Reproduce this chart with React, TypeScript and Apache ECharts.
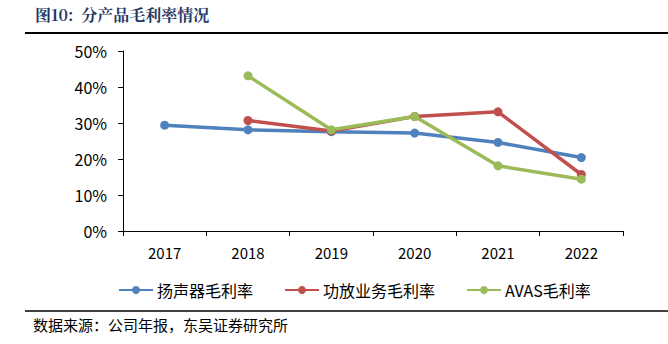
import React, { useEffect, useRef } from "react";
import * as echarts from "echarts";

const categories = ["2017", "2018", "2019", "2020", "2021", "2022"];
const speakerMargin: (number | null)[] = [29.4, 28.1, 27.6, 27.2, 24.6, 20.4];
const ampMargin: (number | null)[] = [null, 30.7, 27.8, 31.8, 33.1, 15.7];
const avasMargin: (number | null)[] = [null, 43.1, 28.1, 31.8, 18.1, 14.4];
const seriesNames = ["扬声器毛利率", "功放业务毛利率", "AVAS毛利率"];
const colors = ["#4F81BD", "#C0504D", "#9BBB59"];
const titleText = "图10:  分产品毛利率情况";
const sourceText = "数据来源：公司年报，东吴证券研究所";

const FONT = "'Noto Sans CJK SC', 'Microsoft YaHei', sans-serif";

export default function App() {
  const ref = useRef<HTMLDivElement>(null);
  useEffect(() => {
    if (!ref.current) return;
    const chart = echarts.init(ref.current, undefined, { renderer: "svg" });
    const datas = [speakerMargin, ampMargin, avasMargin];
    chart.setOption({
      animation: false,
      backgroundColor: "#ffffff",
      grid: { left: 123, right: 45, top: 51, bottom: 113 },
      xAxis: {
        type: "category",
        data: categories,
        boundaryGap: true,
        axisLine: { lineStyle: { color: "#000", width: 1 } },
        axisTick: { show: true, length: 5, inside: false, lineStyle: { color: "#000" } },
        axisLabel: { color: "#000", fontSize: 15, fontFamily: FONT, margin: 14 },
      },
      yAxis: {
        type: "value",
        min: 0,
        max: 50,
        interval: 10,
        splitLine: { show: false },
        axisLine: { show: true, lineStyle: { color: "#000", width: 1 } },
        axisTick: { show: true, length: 5, lineStyle: { color: "#000" } },
        axisLabel: {
          color: "#000",
          fontSize: 16,
          fontFamily: FONT,
          margin: 16,
          formatter: (v: number) => v + "%",
        },
      },
      legend: {
        top: 277,
        left: 113,
        itemGap: 31,
        itemWidth: 34,
        itemHeight: 10,
        textStyle: { color: "#000", fontSize: 16, fontFamily: FONT, padding: [0, 0, 0, -1] },
        data: seriesNames,
      },
      series: seriesNames.map((name, i) => ({
        name,
        type: "line",
        data: datas[i],
        connectNulls: false,
        symbol: "circle",
        symbolSize: 9,
        color: colors[i],
        lineStyle: { width: 3.5, color: colors[i] },
        itemStyle: { color: colors[i] },
      })),
      graphic: [
        {
          type: "text",
          left: 35,
          top: 6,
          style: {
            text: titleText,
            fill: "#1F3864",
            font: "bold 16px 'Noto Serif CJK SC', 'Noto Sans CJK SC', serif",
          },
        },
        {
          type: "line",
          shape: { x1: 25, y1: 33, x2: 668, y2: 33 },
          style: { stroke: "#000", lineWidth: 2 },
        },
        {
          type: "line",
          shape: { x1: 25, y1: 311, x2: 668, y2: 311 },
          style: { stroke: "#000", lineWidth: 1.5 },
        },
        {
          type: "text",
          left: 33,
          top: 317,
          style: {
            text: sourceText,
            fill: "#000",
            font: "15px 'Noto Sans CJK SC', sans-serif",
          },
        },
      ],
    });
    return () => chart.dispose();
  }, []);
  return <div ref={ref} style={{ width: 668, height: 344, position: "absolute", left: 0, top: 0 }} />;
}
